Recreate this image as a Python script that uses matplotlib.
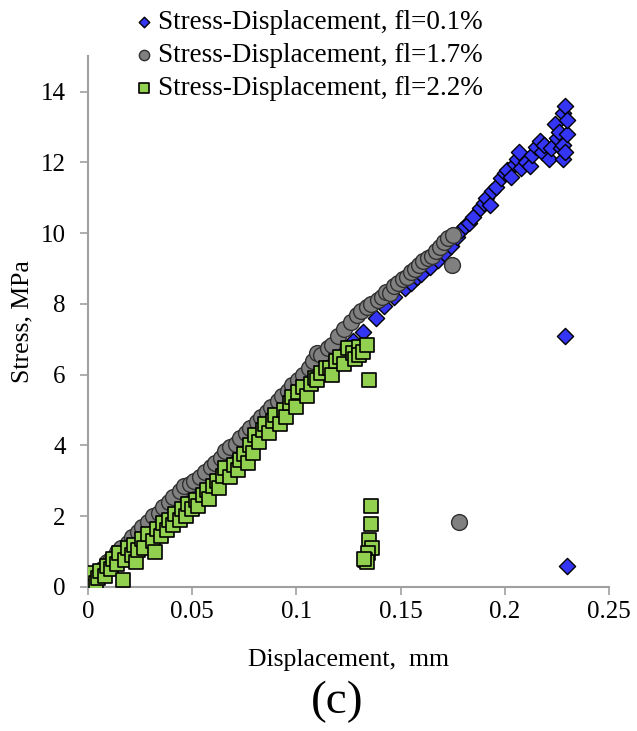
import matplotlib.pyplot as plt

# fl = 0.1 %  (blue diamonds)
disp_01 = [0.001, 0.004, 0.008, 0.012, 0.017, 0.022, 0.025, 0.027, 0.032, 0.037,
           0.043, 0.047, 0.052, 0.057, 0.062, 0.067, 0.072, 0.077, 0.082, 0.087,
           0.092, 0.097, 0.102, 0.107, 0.112, 0.117, 0.122, 0.127, 0.132, 0.138,
           0.142, 0.147, 0.152, 0.155, 0.158, 0.16, 0.164, 0.168, 0.171, 0.174,
           0.177, 0.179, 0.181, 0.183, 0.185, 0.188, 0.19, 0.191, 0.193, 0.194,
           0.196, 0.198, 0.2, 0.201, 0.203, 0.205, 0.206, 0.207, 0.208, 0.21,
           0.212, 0.213, 0.215, 0.217, 0.218, 0.219, 0.221, 0.222, 0.224, 0.225,
           0.226, 0.227, 0.228, 0.228, 0.228, 0.229, 0.229, 0.23, 0.23, 0.229, 0.23]
stress_01 = [0.05, 0.2, 0.4, 0.65, 0.9, 1.15, 1.47, 1.4, 1.65, 1.9,
             2.26, 2.45, 2.7, 2.95, 3.2, 3.5, 3.75, 4.05, 4.35, 4.6,
             4.9, 5.2, 5.5, 5.8, 6.1, 6.4, 6.65, 6.95, 7.2, 7.6,
             7.95, 8.2, 8.45, 8.6, 8.75, 8.85, 9.05, 9.25, 9.45, 9.65,
             9.9, 10.1, 10.2, 10.3, 10.45, 10.7, 10.85, 11.0, 10.8, 11.2,
             11.3, 11.55, 11.7, 11.8, 11.6, 11.95, 12.1, 12.3, 11.85, 12.0,
             11.9, 12.2, 12.45, 12.6, 12.3, 12.5, 12.1, 12.4, 13.1, 12.7,
             12.85, 12.4, 12.1, 12.5, 13.4, 13.6, 12.3, 12.8, 13.2, 7.1, 0.6]

# fl = 1.7 %  (grey circles)
disp_17 = [0.001, 0.003, 0.005, 0.007, 0.009, 0.011, 0.014, 0.016, 0.019, 0.021,
           0.024, 0.026, 0.029, 0.031, 0.034, 0.036, 0.039, 0.041, 0.044, 0.046,
           0.049, 0.051, 0.054, 0.056, 0.059, 0.061, 0.064, 0.066, 0.068, 0.071,
           0.073, 0.076, 0.078, 0.081, 0.083, 0.086, 0.088, 0.091, 0.093, 0.096,
           0.098, 0.101, 0.103, 0.106, 0.108, 0.11, 0.112, 0.115, 0.117, 0.12,
           0.123, 0.126, 0.129, 0.131, 0.134, 0.136, 0.139, 0.141, 0.143, 0.145,
           0.147, 0.149, 0.151, 0.153, 0.155, 0.157, 0.159, 0.161, 0.163, 0.165,
           0.167, 0.169, 0.171, 0.173, 0.175, 0.1745, 0.178]
stress_17 = [0.1, 0.25, 0.35, 0.5, 0.7, 0.8, 1.0, 1.1, 1.25, 1.4,
             1.55, 1.7, 1.85, 2.0, 2.1, 2.25, 2.4, 2.55, 2.7, 2.85,
             2.9, 3.0, 3.1, 3.25, 3.4, 3.5, 3.65, 3.85, 3.95, 4.05,
             4.2, 4.35, 4.5, 4.65, 4.8, 4.95, 5.1, 5.25, 5.4, 5.55,
             5.7, 5.85, 6.0, 6.2, 6.4, 6.6, 6.55, 6.75, 6.85, 7.1,
             7.3, 7.5, 7.7, 7.8, 7.9, 8.0, 8.1, 8.2, 8.35, 8.3,
             8.5, 8.6, 8.7, 8.75, 8.9, 9.0, 9.1, 9.2, 9.3, 9.35,
             9.5, 9.6, 9.75, 9.85, 9.95, 9.1, 1.85]

# fl = 2.2 %  (green squares)
disp_22 = [0.001, 0.002, 0.003, 0.004, 0.005, 0.006, 0.008, 0.009, 0.011, 0.012,
           0.014, 0.015, 0.017, 0.018, 0.019, 0.021, 0.022, 0.023, 0.024, 0.026,
           0.027, 0.029, 0.031, 0.032, 0.033, 0.035, 0.036, 0.038, 0.039, 0.041,
           0.042, 0.044, 0.045, 0.047, 0.048, 0.05, 0.052, 0.053, 0.055, 0.057,
           0.058, 0.06, 0.062, 0.063, 0.065, 0.066, 0.068, 0.07, 0.072, 0.073,
           0.075, 0.077, 0.078, 0.079, 0.08, 0.082, 0.084, 0.085, 0.087, 0.089,
           0.09, 0.092, 0.094, 0.095, 0.097, 0.098, 0.1, 0.101, 0.103, 0.105,
           0.107, 0.109, 0.11, 0.112, 0.114, 0.116, 0.117, 0.119, 0.121, 0.123,
           0.125, 0.127, 0.128, 0.13, 0.13, 0.132, 0.134, 0.135, 0.1358, 0.136,
           0.135, 0.1365, 0.1345, 0.133, 0.134, 0.1325]
stress_22 = [0.3, 0.15, 0.4, 0.1, 0.25, 0.45, 0.3, 0.6, 0.5, 0.8,
             0.65, 0.95, 0.2, 0.75, 1.1, 0.9, 1.2, 0.7, 1.05, 1.35,
             1.1, 1.5, 1.3, 1.0, 1.65, 1.45, 1.8, 1.6, 1.9, 1.75,
             2.05, 1.9, 2.2, 2.0, 2.35, 2.2, 2.45, 2.3, 2.6, 2.75,
             2.5, 2.85, 3.0, 2.8, 3.15, 3.36, 3.1, 3.45, 3.3, 3.6,
             3.75, 3.5, 4.0, 3.8, 4.3, 4.1, 4.45, 4.6, 4.35, 4.7,
             4.85, 4.6, 5.0, 4.8, 5.2, 5.37, 5.1, 5.5, 5.65, 5.4,
             5.75, 5.9, 5.85, 6.05, 6.2, 6.2, 6.0, 6.4, 6.5, 6.3,
             6.75, 6.6, 6.45, 6.78, 6.55, 6.65, 6.84, 5.85, 2.29, 1.78,
             1.33, 1.1, 0.95, 0.76, 0.7, 0.8]

x_ticks = [0, 0.05, 0.1, 0.15, 0.2, 0.25]
x_ticklabels = ['0', '0.05', '0.1', '0.15', '0.2', '0.25']
y_ticks = [0, 2, 4, 6, 8, 10, 12, 14]

plt.rcParams['font.family'] = ['Liberation Serif', 'DejaVu Serif']

fig = plt.figure(figsize=(6.37, 7.31), dpi=100)
ax = fig.add_axes([0.138, 0.197, 0.818, 0.726])

ax.scatter(disp_01, stress_01, marker='D', s=68, c='#3535f5', edgecolors='black',
           linewidths=1, label='Stress-Displacement, fl=0.1%', zorder=2)
ax.scatter(disp_17, stress_17, marker='o', s=130, c='#808080', edgecolors='#303030',
           linewidths=1, label='Stress-Displacement, fl=1.7%', zorder=3)
ax.scatter(disp_22, stress_22, marker='s', s=105, c='#92d050', edgecolors='black',
           linewidths=1.2, label='Stress-Displacement, fl=2.2%', zorder=4)

ax.set_xlim(0, 0.25)
ax.set_ylim(0, 15)
ax.set_xticks(x_ticks)
ax.set_xticklabels(x_ticklabels)
ax.set_yticks(y_ticks)

for side in ['top', 'right']:
	ax.spines[side].set_visible(False)
for side in ['left', 'bottom']:
	ax.spines[side].set_color('#a0a0a0')
	ax.spines[side].set_linewidth(1.5)
ax.tick_params(direction='out', length=6, width=1.2, color='#a0a0a0', labelsize=18)
ax.tick_params(axis='y', pad=10)
ax.tick_params(axis='x', pad=4)

ax.set_xlabel('Displacement,  mm', fontsize=18.5, labelpad=19)
ax.set_ylabel('Stress, MPa', fontsize=18.5, labelpad=5)

fig.text(0.53, 0.04, '(c)', fontsize=34, ha='center', va='center')

fig.legend(loc='upper left', bbox_to_anchor=(0.175, 1.012), frameon=False,
           fontsize=19.5, markerscale=0.65, handletextpad=0.0, labelspacing=0.3,
           handlelength=1.0, borderpad=0.2)

fig.savefig('out.png', dpi=100)
